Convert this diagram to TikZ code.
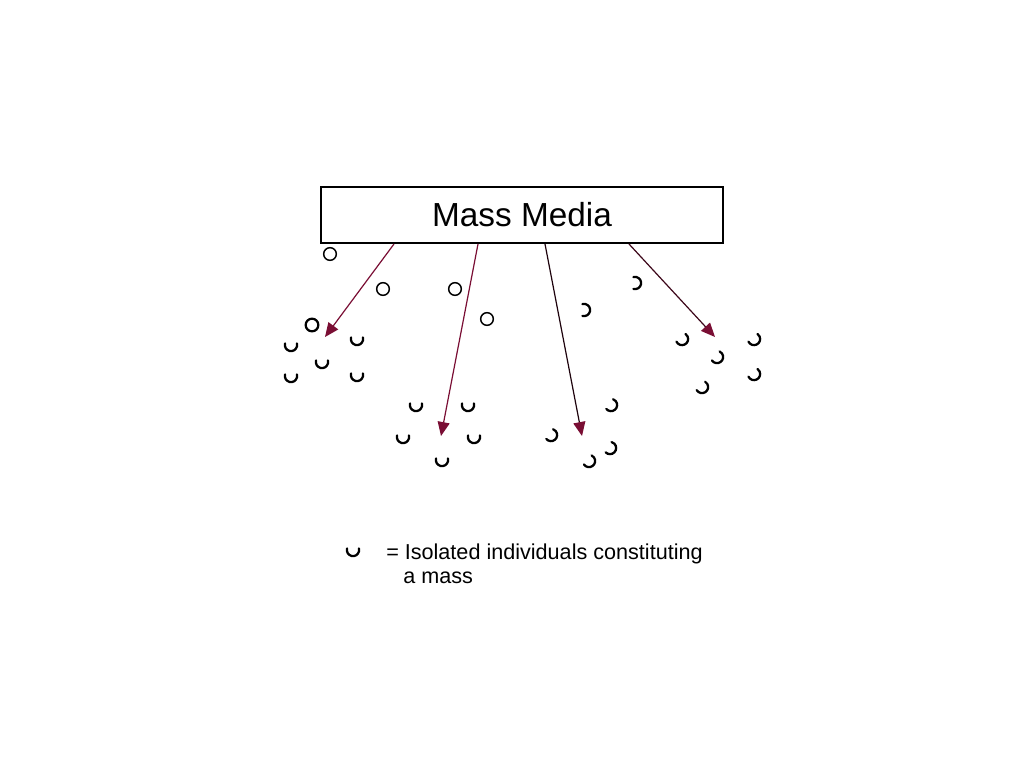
\documentclass[tikz,border=0pt]{standalone}
\usepackage{fontspec}
\setmainfont{Liberation Sans}
\usetikzlibrary{arrows.meta,calc}
\definecolor{maroon}{RGB}{122,14,52}
\tikzset{
  mediabox/.style={draw=black,line width=1.5pt,minimum width=301.5pt,minimum height=42pt,inner sep=0pt,font=\fontsize{25}{30}\selectfont},
  flow/.style={line width=0.9pt,-{Triangle[length=10.5pt,width=9pt,color=maroon]}},
  ring/.style={draw=black,line width=1.1pt,circle,minimum size=9.5pt,inner sep=0pt},
  pics/cup/.style={code={\draw[line width=1.7pt,line cap=round] (165:4.6pt) arc[start angle=165,end angle=375,radius=4.6pt];}},
  legend/.style={inner sep=0pt,font=\fontsize{16.2}{19}\selectfont}
}
\begin{document}
\begin{tikzpicture}[x=0.75pt,y=-0.75pt]
\useasboundingbox (0,0) rectangle (1024,768);
\fill[white] (0,0) rectangle (1024,768);
\node[mediabox] (media) at (522,215) {Mass Media};
% open circles
\node[ring] (c1) at (330,254) {};
\node[ring] (c2) at (383,289) {};
\node[ring] (c3) at (455,289) {};
\node[ring] (c4) at (487,319) {};
\node[ring,line width=1.7pt] (c5) at (312,325) {};
% cups group 1
\pic at (291,345) {cup};
\pic at (357,339) {cup};
\pic at (322,362) {cup};
\pic at (291,376) {cup};
\pic at (357,375) {cup};
% group 2
\pic at (416,405) {cup};
\pic at (468,405) {cup};
\pic at (403,437) {cup};
\pic at (474,437) {cup};
\pic at (442,460) {cup};
% group 3
\pic[rotate=90] at (584,310) {cup};
\pic[rotate=90] at (635,283) {cup};
\pic[rotate=55] at (611,405) {cup};
\pic[rotate=55] at (551,435) {cup};
\pic[rotate=60] at (610,448) {cup};
\pic[rotate=50] at (589,461) {cup};
% group 4
\pic[rotate=40] at (682,339) {cup};
\pic[rotate=40] at (754,339) {cup};
\pic[rotate=50] at (717,357) {cup};
\pic[rotate=40] at (754,374) {cup};
\pic[rotate=45] at (702,387) {cup};
% arrow targets
\coordinate (t1) at (325,337);
\coordinate (t2) at (441,436);
\coordinate (t3) at (582,436);
\coordinate (t4) at (715,337);
\draw[flow,draw=maroon] ($(media.south west)+(74,0)$) -- (t1);
\draw[flow,draw=maroon] ($(media.south west)+(158,0)$) -- (t2);
\draw[flow,draw=black!75!maroon] ($(media.south west)+(225,0)$) -- (t3);
\draw[flow,draw=black!50!maroon] ($(media.south west)+(309,0)$) -- (t4);
% legend
\pic at (353,550) {cup};
\node[legend,anchor=base west] (l1) at (386,559) {= Isolated individuals constituting};
\node[legend,anchor=base west] (l2) at (403,583) {a mass};
\end{tikzpicture}
\end{document}
